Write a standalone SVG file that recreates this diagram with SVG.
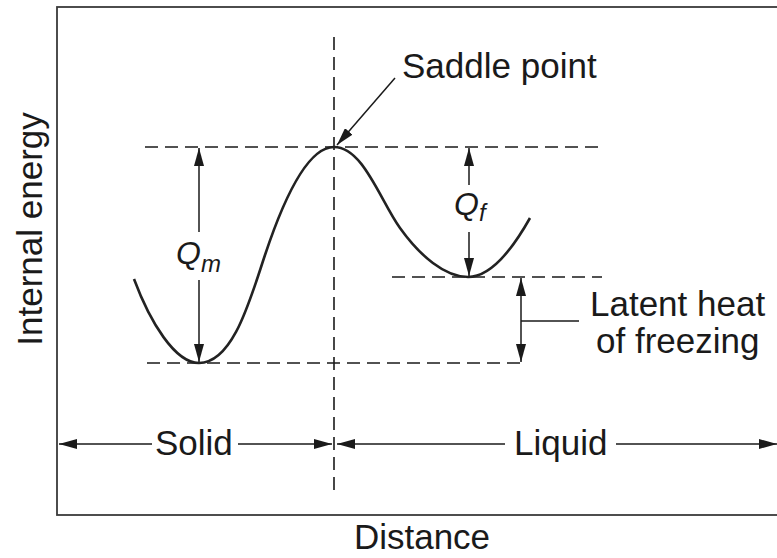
<svg xmlns="http://www.w3.org/2000/svg" width="777" height="558" viewBox="0 0 777 558">
<style>
.t{font-family:"Liberation Sans",Arial,sans-serif;fill:#1a1a1a;font-size:35px}
.q{font-family:"Liberation Sans",Arial,sans-serif;fill:#1a1a1a;font-style:italic}
.d{stroke:#1a1a1a;stroke-width:1.6;stroke-dasharray:13 7;fill:none}
.a{stroke:#1a1a1a;stroke-width:1.5;fill:none}
</style>
<defs>
<marker id="ah" viewBox="0 0 18 10" refX="18" refY="5" markerWidth="18" markerHeight="10" markerUnits="userSpaceOnUse" orient="auto-start-reverse">
<path d="M0,0 L18,5 L0,10 Z" fill="#1a1a1a"/>
</marker>
</defs>
<rect id="frame" x="57" y="7" width="740" height="508" fill="none" stroke="#3a3a3a" stroke-width="1.8"/>
<g id="guides">
<line class="d" x1="334" y1="37" x2="334" y2="492"/>
<line class="d" x1="145" y1="147" x2="602" y2="147"/>
<line class="d" x1="147" y1="363" x2="527" y2="363"/>
<line class="d" x1="392" y1="277" x2="602" y2="277"/>
</g>
<g id="curve">
<path d="M134,279 C150,322 175,363 199,363 C233,363 250,300 265,255 C280,210 305,147 334,147 C363,147 380,200 400,228 C420,256 445,277 468,277 C491,277 512,250 530,218" fill="none" stroke="#222" stroke-width="2.6"/>
</g>
<g id="connectors">
<line class="a" x1="395" y1="78" x2="337" y2="145" marker-end="url(#ah)"/>
<line class="a" x1="199" y1="232" x2="199" y2="148" marker-end="url(#ah)"/>
<line class="a" x1="199" y1="280" x2="199" y2="362" marker-end="url(#ah)"/>
<line class="a" x1="469" y1="185" x2="469" y2="148" marker-end="url(#ah)"/>
<line class="a" x1="469" y1="232" x2="469" y2="276" marker-end="url(#ah)"/>
<line class="a" x1="521" y1="278" x2="521" y2="362" marker-start="url(#ah)" marker-end="url(#ah)"/>
<line class="a" x1="521" y1="321" x2="579" y2="321"/>
<line class="a" x1="152" y1="444" x2="59" y2="444" marker-end="url(#ah)"/>
<line class="a" x1="238" y1="444" x2="332" y2="444" marker-end="url(#ah)"/>
<line class="a" x1="505" y1="444" x2="337" y2="444" marker-end="url(#ah)"/>
<line class="a" x1="616" y1="444" x2="777" y2="444" marker-end="url(#ah)"/>
</g>
<g id="labels">
<text class="t" x="402" y="78">Saddle point</text>
<text class="q" x="176" y="264" font-size="32">Q<tspan font-size="24" dy="8">m</tspan></text>
<text class="q" x="454" y="215" font-size="32">Q<tspan font-size="24" dy="6">f</tspan></text>
<text class="t" x="590" y="316">Latent heat</text>
<text class="t" x="596" y="353">of freezing</text>
<text class="t" x="155" y="455">Solid</text>
<text class="t" x="514" y="455">Liquid</text>
<text class="t" x="422" y="549" text-anchor="middle" font-size="33">Distance</text>
<text class="t" transform="translate(42,229) rotate(-90)" text-anchor="middle" font-size="40">Internal energy</text>
</g>
</svg>
